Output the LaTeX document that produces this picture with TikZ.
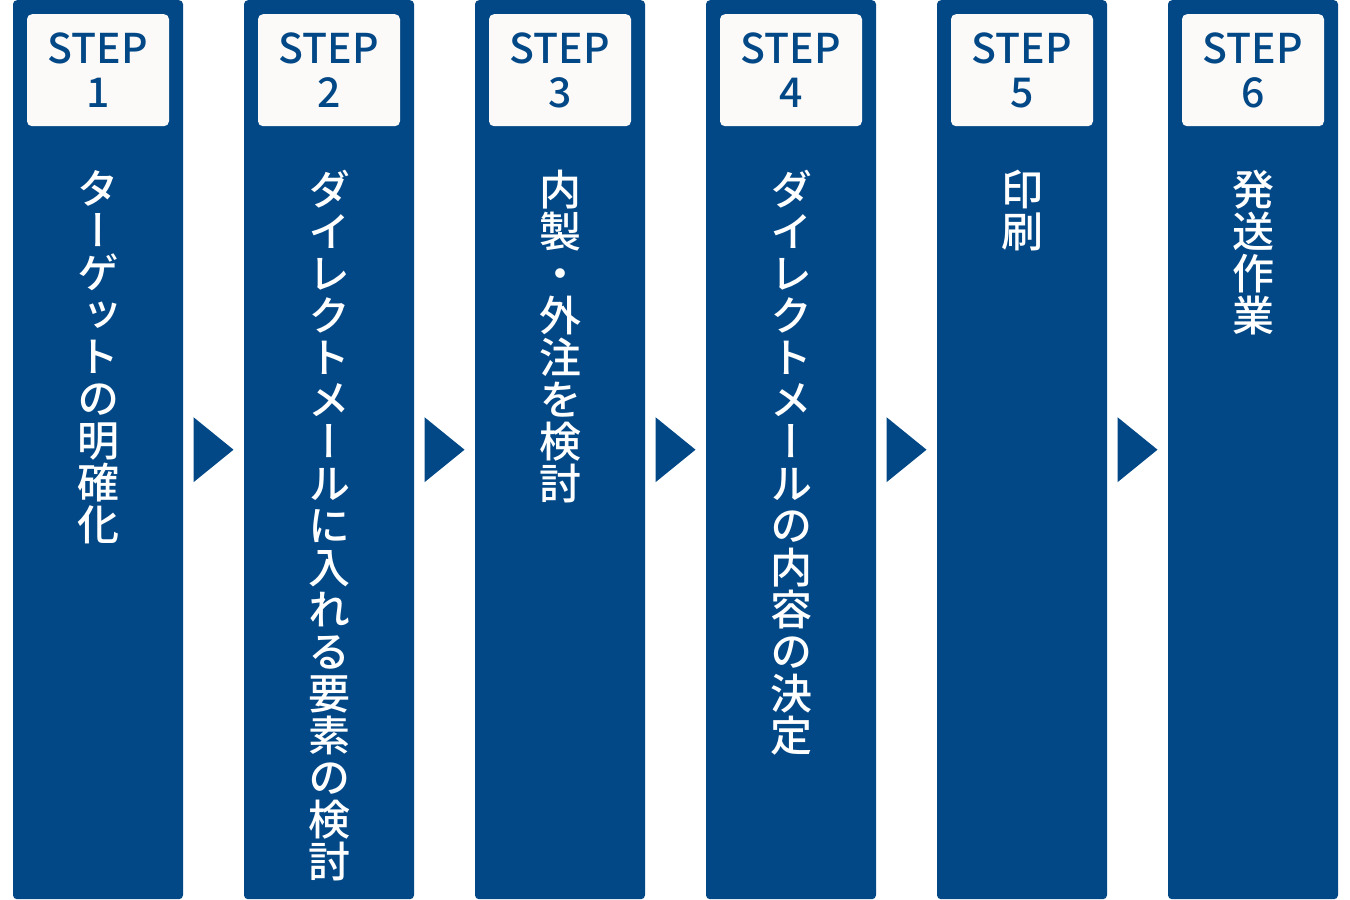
\documentclass[tikz,border=0pt]{standalone}
\usepackage{fontspec}
\usetikzlibrary{positioning}
\newfontfamily\jpfont[BoldFont={Noto Sans CJK JP Medium}]{Noto Sans CJK JP}
\newfontfamily\tatefont[RawFeature=+vert,BoldFont={Noto Sans CJK JP Medium}]{Noto Sans CJK JP}
\definecolor{stepblue}{RGB}{3,72,134}
\definecolor{labelwhite}{RGB}{251,250,248}
\lineskiplimit=-50pt
\makeatletter
\newcommand\tate[1]{\tate@i#1\@nil}
\def\tate@i#1#2\@nil{#1\ifx\relax#2\relax\else\\\tate@i#2\@nil\fi}
\makeatother

\begin{document}
\begin{tikzpicture}[x=1pt,y=-1pt,node distance=231pt,
    column/.style={fill=stepblue,rounded corners=4pt,minimum width=170pt,
                   minimum height=899pt,inner sep=0pt,anchor=north},
    stepbox/.style={fill=labelwhite,rounded corners=5pt,minimum width=142pt,
                    minimum height=112pt,inner sep=0pt,anchor=north,
                    text=stepblue,align=center,
                    font=\jpfont\bfseries\fontsize{41}{44}\selectfont},
    tatetext/.style={text=white,anchor=north,align=center,inner sep=0pt,
                     font=\tatefont\bfseries\fontsize{42}{42}\selectfont},
    nexttri/.style={fill=stepblue}]
	\useasboundingbox (0,0) rectangle (1350,900);
	\node[column]				(s1)	at (98,0)		{};
	\node[column]				(s2)	[right of = s1]	{};
	\node[column]				(s3)	[right of = s2]	{};
	\node[column]				(s4)	[right of = s3]	{};
	\node[column]				(s5)	[right of = s4]	{};
	\node[column]				(s6)	[right of = s5]	{};
	% step labels
	\node[stepbox]	(b1)	at ([yshift=-14pt]s1.north)	{STEP\\1};
	\node[stepbox]	(b2)	at ([yshift=-14pt]s2.north)	{STEP\\2};
	\node[stepbox]	(b3)	at ([yshift=-14pt]s3.north)	{STEP\\3};
	\node[stepbox]	(b4)	at ([yshift=-14pt]s4.north)	{STEP\\4};
	\node[stepbox]	(b5)	at ([yshift=-14pt]s5.north)	{STEP\\5};
	\node[stepbox]	(b6)	at ([yshift=-14pt]s6.north)	{STEP\\6};
	% vertical texts
	\node[tatetext]	(t1)	at ([yshift=-170pt]s1.north)	{\tate{ターゲットの明確化}};
	\node[tatetext]	(t2)	at ([yshift=-170pt]s2.north)	{\tate{ダイレクトメールに入れる要素の検討}};
	\node[tatetext]	(t3)	at ([yshift=-170pt]s3.north)	{\tate{内製・外注を検討}};
	\node[tatetext]	(t4)	at ([yshift=-170pt]s4.north)	{\tate{ダイレクトメールの内容の決定}};
	\node[tatetext]	(t5)	at ([yshift=-170pt]s5.north)	{\tate{印刷}};
	\node[tatetext]	(t6)	at ([yshift=-170pt]s6.north)	{\tate{発送作業}};
	% arrows between steps
	\path	(s1) -- coordinate[midway] (m1) (s2)
			(s2) -- coordinate[midway] (m2) (s3)
			(s3) -- coordinate[midway] (m3) (s4)
			(s4) -- coordinate[midway] (m4) (s5)
			(s5) -- coordinate[midway] (m5) (s6);
	\fill[nexttri] (m1) ++(-20,-32.5) -- ++(40,32.5) -- ++(-40,32.5) -- cycle;
	\fill[nexttri] (m2) ++(-20,-32.5) -- ++(40,32.5) -- ++(-40,32.5) -- cycle;
	\fill[nexttri] (m3) ++(-20,-32.5) -- ++(40,32.5) -- ++(-40,32.5) -- cycle;
	\fill[nexttri] (m4) ++(-20,-32.5) -- ++(40,32.5) -- ++(-40,32.5) -- cycle;
	\fill[nexttri] (m5) ++(-20,-32.5) -- ++(40,32.5) -- ++(-40,32.5) -- cycle;
\end{tikzpicture}
\end{document}
